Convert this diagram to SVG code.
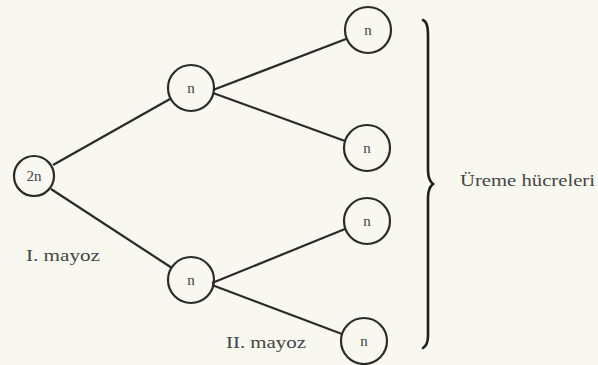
<svg xmlns="http://www.w3.org/2000/svg" width="598" height="365" viewBox="0 0 598 365">
<style>
.node circle{fill:none;stroke:#2a2a2a;stroke-width:2.2}
.node text{font-family:"Liberation Serif",serif;font-size:15px;fill:#444;text-anchor:middle}
.edges line{stroke:#2a2a2a;stroke-width:2.2}
.lbl{font-family:"Liberation Serif",serif;font-size:17px;fill:#444}
</style>
<rect width="598" height="365" fill="#f8f8f0"/>
<g class="edges">
<line x1="53" y1="165" x2="170" y2="99"/>
<line x1="51" y1="189" x2="172" y2="268"/>
<line x1="213" y1="90" x2="346" y2="39"/>
<line x1="213" y1="93" x2="345" y2="141"/>
<line x1="212" y1="283" x2="345" y2="229"/>
<line x1="212" y1="285" x2="342" y2="334"/>
</g>
<g id="n2n" class="node"><circle cx="34" cy="176" r="20"/><text x="34" y="181">2n</text></g>
<g id="n1" class="node"><circle cx="191" cy="88" r="23"/><text x="191" y="93">n</text></g>
<g id="n2" class="node"><circle cx="191" cy="280" r="23"/><text x="191" y="285">n</text></g>
<g id="n3" class="node"><circle cx="368" cy="30" r="23"/><text x="368" y="35">n</text></g>
<g id="n4" class="node"><circle cx="367" cy="148" r="23"/><text x="367" y="153">n</text></g>
<g id="n5" class="node"><circle cx="367" cy="221" r="23"/><text x="367" y="226">n</text></g>
<g id="n6" class="node"><circle cx="364" cy="341" r="23"/><text x="364" y="346">n</text></g>
<g id="brace" fill="none" stroke="#1e1e1e" stroke-width="2.6" stroke-linecap="round">
<path d="M423,20 Q428,22 428,34 L428,170 Q428,180 433,184 Q428,188 428,198 L428,336 Q428,345 423,348"/>
</g>
<text class="lbl" x="460" y="186" textLength="135" lengthAdjust="spacingAndGlyphs">Üreme hücreleri</text>
<text class="lbl" x="26" y="261" textLength="74" lengthAdjust="spacingAndGlyphs">I. mayoz</text>
<text class="lbl" x="226" y="348" textLength="80" lengthAdjust="spacingAndGlyphs">II. mayoz</text>
</svg>
